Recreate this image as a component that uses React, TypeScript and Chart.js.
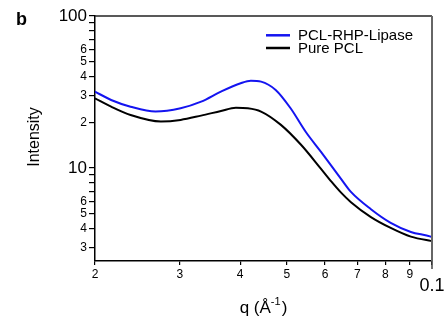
import React, { useEffect, useRef } from "react";
import { Chart, registerables } from "chart.js";

Chart.register(...registerables);

const seriesNames = ["PCL-RHP-Lipase", "Pure PCL"];
const seriesColors = ["#1414f0", "#000000"];

const qBlue = [0.02, 0.0216, 0.0237, 0.0267, 0.0301, 0.0332, 0.0365, 0.0401, 0.0421, 0.0442, 0.0474, 0.0509, 0.0547, 0.0588, 0.0647, 0.0679, 0.0747, 0.0821, 0.0904, 0.0994, 0.1];
const iBlue = [31.8, 28.0, 25.3, 23.5, 24.7, 27.3, 31.8, 36.1, 37.5, 37.0, 32.6, 24.7, 17.3, 12.8, 8.5, 6.95, 5.35, 4.35, 3.79, 3.53, 3.5];

const qBlack = [0.02, 0.0216, 0.0237, 0.0274, 0.0301, 0.0332, 0.0365, 0.0392, 0.0415, 0.0442, 0.0486, 0.0535, 0.0588, 0.0617, 0.0647, 0.0679, 0.0747, 0.0821, 0.0904, 0.0994, 0.1];
const iBlack = [28.7, 25.3, 22.3, 20.2, 20.7, 22.1, 23.7, 24.9, 24.7, 23.5, 19.2, 14.2, 9.9, 8.2, 6.9, 5.95, 4.75, 4.03, 3.53, 3.31, 3.3];

const xTickValues = [0.02, 0.03, 0.04, 0.05, 0.06, 0.07, 0.08, 0.09, 0.1];
const xTickLabels = ["2", "3", "4", "5", "6", "7", "8", "9", "0.1"];
const yTickValues = [3, 4, 5, 6, 7, 8, 9, 10, 20, 30, 40, 50, 60, 70, 80, 90, 100];
const yTickLabels = ["3", "4", "5", "6", "", "", "", "10", "2", "3", "4", "5", "6", "", "", "", "100"];
const yBigLabels = ["10", "100"];

const xMin = 0.02, xMax = 0.1, yMin = 2.44, yMax = 100;
const panelLetter = "b";
const yTitle = "Intensity";
const xTitleMain = "q (Å";
const xTitleSup = "-1";
const xTitleEnd = ")";

const FONT = "'Liberation Sans', Arial, Helvetica, sans-serif";

export default function App() {
  const ref = useRef<HTMLCanvasElement | null>(null);

  useEffect(() => {
    if (!ref.current) return;
    const toPts = (qs: number[], is: number[]) => qs.map((q, i) => ({ x: q, y: is[i] }));

    const deco = {
      id: "deco",
      afterDraw(chart: any) {
        const ctx = chart.ctx;
        const a = chart.chartArea;
        const xs = chart.scales.x;
        ctx.save();
        // frame top & right
        ctx.strokeStyle = "#222";
        ctx.lineWidth = 1.5;
        ctx.beginPath();
        ctx.moveTo(a.left, a.top);
        ctx.lineTo(a.right, a.top);
        ctx.stroke();
        ctx.strokeStyle = "#666";
        ctx.lineWidth = 2;
        ctx.beginPath();
        ctx.moveTo(a.right, a.top);
        ctx.lineTo(a.right, a.bottom);
        ctx.stroke();
        // long tick + label at 0.1
        const last = xTickValues.length - 1;
        const px = xs.getPixelForValue(xTickValues[last]);
        ctx.strokeStyle = "#444";
        ctx.lineWidth = 1.5;
        ctx.beginPath();
        ctx.moveTo(px, a.bottom);
        ctx.lineTo(px, a.bottom + 8);
        ctx.stroke();
        ctx.fillStyle = "#000";
        ctx.font = `18px ${FONT}`;
        ctx.textAlign = "center";
        ctx.textBaseline = "alphabetic";
        ctx.fillText(xTickLabels[last], px, a.bottom + 30);
        // panel letter
        ctx.font = `bold 18px ${FONT}`;
        ctx.textAlign = "left";
        ctx.fillText(panelLetter, 16, 25);
        // y title
        ctx.save();
        ctx.translate(39, 137);
        ctx.rotate(-Math.PI / 2);
        ctx.font = `16px ${FONT}`;
        ctx.textAlign = "center";
        ctx.fillText(yTitle, 0, 0);
        ctx.restore();
        // x title
        const mainF = `17px ${FONT}`;
        const supF = `11px ${FONT}`;
        ctx.font = mainF;
        const w1 = ctx.measureText(xTitleMain).width;
        const w3 = ctx.measureText(xTitleEnd).width;
        ctx.font = supF;
        const w2 = ctx.measureText(xTitleSup).width;
        const total = w1 + w2 + w3 + 1;
        const cx = (a.left + a.right) / 2;
        let x0 = cx - total / 2;
        const base = 313;
        ctx.textAlign = "left";
        ctx.font = mainF;
        ctx.fillText(xTitleMain, x0, base);
        x0 += w1;
        ctx.font = supF;
        ctx.fillText(xTitleSup, x0, base - 8);
        x0 += w2 + 1;
        ctx.font = mainF;
        ctx.fillText(xTitleEnd, x0, base);
        // legend
        const lineY = [35.3, 48];
        const textY = [39.5, 52.7];
        chart.data.datasets.forEach((ds: any, i: number) => {
          ctx.strokeStyle = ds.borderColor;
          ctx.lineWidth = 2.5;
          ctx.beginPath();
          ctx.moveTo(266, lineY[i]);
          ctx.lineTo(290, lineY[i]);
          ctx.stroke();
          ctx.fillStyle = "#000";
          ctx.font = `15px ${FONT}`;
          ctx.textAlign = "left";
          ctx.textBaseline = "alphabetic";
          ctx.fillText(ds.label, 298, textY[i]);
        });
        ctx.restore();
      },
    };

    const chart = new Chart(ref.current, {
      type: "line",
      data: {
        datasets: [
          {
            label: seriesNames[0],
            data: toPts(qBlue, iBlue),
            borderColor: seriesColors[0],
            borderWidth: 2,
            pointRadius: 0,
            cubicInterpolationMode: "monotone",
          },
          {
            label: seriesNames[1],
            data: toPts(qBlack, iBlack),
            borderColor: seriesColors[1],
            borderWidth: 2,
            pointRadius: 0,
            cubicInterpolationMode: "monotone",
          },
        ],
      },
      options: {
        animation: false,
        responsive: false,
        devicePixelRatio: 1,
        layout: { padding: { left: 0, top: 16, right: 14, bottom: 0 } },
        plugins: { legend: { display: false }, tooltip: { enabled: false } },
        scales: {
          x: {
            type: "logarithmic",
            min: xMin,
            max: xMax,
            afterBuildTicks: (s: any) => {
              s.ticks = xTickValues.map((v) => ({ value: v }));
            },
            afterFit: (s: any) => {
              s.height = 66;
            },
            border: { display: true, color: "#000", width: 1.5 },
            grid: { display: true, drawOnChartArea: false, drawTicks: true, tickLength: 4, color: "#000", lineWidth: 1.2 },
            ticks: {
              autoSkip: false,
              maxRotation: 0,
              padding: 2,
              color: "#000",
              font: { size: 12, family: FONT },
              callback: (_v: any, i: number) => (i === xTickValues.length - 1 ? "" : xTickLabels[i]),
            },
          },
          y: {
            type: "logarithmic",
            min: yMin,
            max: yMax,
            afterBuildTicks: (s: any) => {
              s.ticks = yTickValues.map((v) => ({ value: v }));
            },
            afterFit: (s: any) => {
              s.width = 95;
            },
            border: { display: true, color: "#000", width: 1.5 },
            grid: { display: true, drawOnChartArea: false, drawTicks: true, tickLength: 6, color: "#000", lineWidth: 1.2 },
            ticks: {
              autoSkip: false,
              padding: 2,
              color: "#000",
              font: (c: any) => {
                const lab = yTickLabels[c.index];
                return { size: yBigLabels.includes(lab) ? 17 : 12, family: FONT };
              },
              callback: (_v: any, i: number) => yTickLabels[i],
            },
          },
        },
      },
      plugins: [deco],
    } as any);

    return () => chart.destroy();
  }, []);

  return (
    <div style={{ position: "absolute", left: 0, top: 0, width: 446, height: 327 }}>
      <canvas ref={ref} width={446} height={327} />
    </div>
  );
}
